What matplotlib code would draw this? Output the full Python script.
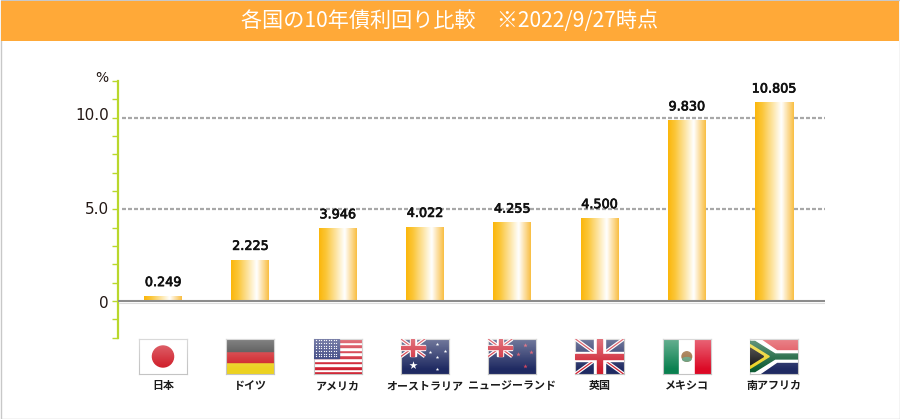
import numpy as np
import matplotlib
matplotlib.use("Agg")
import matplotlib.pyplot as plt
import matplotlib.patheffects as pe
from matplotlib.colors import LinearSegmentedColormap
from matplotlib.patches import Ellipse, Polygon, Rectangle
from matplotlib.transforms import ScaledTranslation

plt.rcParams['font.family'] = ['Noto Sans CJK JP', 'DejaVu Sans']

title = "各国の10年債利回り比較　※2022/9/27時点"
countries = ["日本", "ドイツ", "アメリカ", "オーストラリア", "ニュージーランド", "英国", "メキシコ", "南アフリカ"]
flag_codes = ["jp", "de", "us", "au", "nz", "gb", "mx", "za"]
yields = [0.249, 2.225, 3.946, 4.022, 4.255, 4.500, 9.830, 10.805]
yield_labels = ["0.249", "2.225", "3.946", "4.022", "4.255", "4.500", "9.830", "10.805"]
minor_ticks = list(range(-2, 13))
major_ticks = {0: "0", 5: "5.0", 10: "10.0"}
grid_levels = [5, 10]

W, H = 900, 419
INK = "#231815"
NAVY = "#1f2a62"
RED = "#cf2030"
LATIN = "DejaVu Sans"

bar_cmap = LinearSegmentedColormap.from_list(
    "bar", [(0, "#fbb70c"), (0.18, "#fbc638"), (0.68, "#ffffff"), (1, "#f9bf45")])


def gloss(ax):
    # 旗の上半分に白いツヤを重ねる
    g = np.zeros((32, 1, 4))
    g[:, 0, :3] = 1
    g[:, 0, 3] = np.clip(np.linspace(0.38, -0.05, 32), 0, 1)
    ax.imshow(g, extent=(0, 1, 0, 1), origin="upper", aspect="auto", zorder=20)


def union_jack(ax, x0, y0, w, h):
    ax.add_patch(Rectangle((x0, y0), w, h, color=NAVY, zorder=2))
    for a, b in [((x0, y0), (x0 + w, y0 + h)), ((x0, y0 + h), (x0 + w, y0))]:
        ax.plot(*zip(a, b), color="white", lw=2.6, solid_capstyle="butt", zorder=3)
        ax.plot(*zip(a, b), color=RED, lw=0.9, solid_capstyle="butt", zorder=4)
    ax.add_patch(Rectangle((x0 + w * 0.38, y0), w * 0.24, h, color="white", zorder=5))
    ax.add_patch(Rectangle((x0, y0 + h * 0.36), w, h * 0.28, color="white", zorder=5))
    ax.add_patch(Rectangle((x0 + w * 0.44, y0), w * 0.12, h, color=RED, zorder=6))
    ax.add_patch(Rectangle((x0, y0 + h * 0.42), w, h * 0.16, color=RED, zorder=6))


def draw_flag(ax, code):
    ax.set_xticks([])
    ax.set_yticks([])
    for s in ax.spines.values():
        s.set_color("#c4c4c4")
        s.set_linewidth(0.8)
    if code == "jp":
        ax.add_patch(Rectangle((0, 0), 1, 1, color="white"))
        ax.add_patch(Ellipse((0.5, 0.5), 0.44, 0.6, color="#cf1a26", zorder=3))
    elif code == "de":
        for i, c in enumerate(["#ecd221", "#cf1f25", "#3a3a3a"]):
            ax.add_patch(Rectangle((0, i / 3), 1, 1 / 3, color=c))
    elif code == "us":
        for i in range(13):
            ax.add_patch(Rectangle((0, i / 13), 1, 1 / 13, color=RED if i % 2 == 0 else "white"))
        ax.add_patch(Rectangle((0, 6 / 13), 0.52, 7 / 13, color="#2b3576", zorder=3))
        sx, sy = np.meshgrid(np.linspace(0.05, 0.47, 9), np.linspace(0.51, 0.96, 7))
        ax.scatter(sx, sy, s=0.8, color="white", linewidths=0, zorder=4)
    elif code in ("au", "nz"):
        ax.add_patch(Rectangle((0, 0), 1, 1, color=NAVY))
        union_jack(ax, 0, 0.5, 0.5, 0.5)
        if code == "au":
            ax.scatter([0.75, 0.6, 0.92, 0.76, 0.75], [0.85, 0.62, 0.66, 0.48, 0.14],
                       s=7, marker="*", color="white", linewidths=0, zorder=7)
            ax.scatter([0.25], [0.25], s=38, marker="*", color="white", linewidths=0, zorder=7)
        else:
            ax.scatter([0.77, 0.62, 0.9, 0.77], [0.82, 0.58, 0.64, 0.22],
                       s=11, marker="*", color="#d2415a", linewidths=0, zorder=7)
    elif code == "gb":
        union_jack(ax, 0, 0, 1, 1)
    elif code == "mx":
        ax.add_patch(Rectangle((0, 0), 1 / 3, 1, color="#0b8150"))
        ax.add_patch(Rectangle((1 / 3, 0), 1 / 3, 1, color="white"))
        ax.add_patch(Rectangle((2 / 3, 0), 1 / 3, 1, color="#dc0a26"))
        ax.add_patch(Ellipse((0.5, 0.5), 0.2, 0.27, color="#9a6a3a", zorder=3))
        ax.add_patch(Ellipse((0.5, 0.42), 0.17, 0.1, color="#5f9a78", zorder=4))
    elif code == "za":
        ax.add_patch(Rectangle((0, 0.5), 1, 0.5, color="#dd3a44"))
        ax.add_patch(Rectangle((0, 0), 1, 0.5, color=NAVY))
        ax.add_patch(Polygon([(0, 1), (0.2, 1), (0.56, 0.66), (1, 0.66), (1, 0.34), (0.56, 0.34),
                              (0.2, 0), (0, 0)], color="white", zorder=2))
        ax.add_patch(Polygon([(0, 0.93), (0.1, 0.93), (0.52, 0.57), (1, 0.57), (1, 0.43), (0.52, 0.43),
                              (0.1, 0.07), (0, 0.07)], color="#0d5c34", zorder=3))
        ax.add_patch(Polygon([(0, 0.84), (0.4, 0.5), (0, 0.16)], color="#ecd221", zorder=4))
        ax.add_patch(Polygon([(0, 0.74), (0.28, 0.5), (0, 0.26)], color="#111111", zorder=5))
    gloss(ax)
    ax.set_xlim(0, 1)
    ax.set_ylim(0, 1)


fig = plt.figure(figsize=(W / 100, H / 100), dpi=100, facecolor="white")

# 外枠とタイトル帯
bg = fig.add_axes([0, 0, 1, 1], zorder=0)
bg.set_xlim(0, W)
bg.set_ylim(H, 0)
bg.axis("off")
bg.add_patch(Rectangle((0.5, 0.5), W - 1, H - 1, facecolor="white", edgecolor="#c8c8c8", lw=1))
bg.add_patch(Rectangle((1, 1), W - 2, 40, facecolor="#ffa938", edgecolor="none"))
bg.text(W / 2, 21, title, color="white", fontsize=15.2, ha="center", va="center")

# グラフ本体: x=0 が 163px、間隔 87.3px
ax = fig.add_axes([118.5 / W, 1 - 337.7 / H, (825 - 118.5) / W, (337.7 - 81) / H], zorder=1)
ax.patch.set_alpha(0)
xlim = ((118.5 - 163) / 87.3, (825 - 163) / 87.3)
for name in ["top", "right", "bottom"]:
    ax.spines[name].set_visible(False)
ax.spines["left"].set_color("#b9d72c")
ax.spines["left"].set_linewidth(1.6)
ax.set_xticks([])
ax.set_yticks(minor_ticks)
ax.set_yticklabels([major_ticks.get(t, "") for t in minor_ticks], fontsize=11, color=INK,
                   fontfamily=LATIN)
ax.tick_params(axis="y", direction="out", length=4, width=1.0, color="#b9d72c", pad=3)
# 目盛りラベルは元の図でも少しずれている
label_shift = {0: -1, 5: 1, 10: 4}
for tick_value, label in zip(minor_ticks, ax.get_yticklabels()):
    if tick_value in label_shift:
        label.set_transform(label.get_transform()
                            + ScaledTranslation(0, label_shift[tick_value] / 100, fig.dpi_scale_trans))
ax.text(-0.015, 1.012, "%", transform=ax.transAxes, ha="right", va="center",
        fontsize=10, color=INK, fontfamily=LATIN)

grid_start = (122 - 163) / 87.3
for level in grid_levels:
    ax.plot([grid_start, xlim[1]], [level, level], color="#a8a8a8", lw=1.6,
            linestyle=(0, (1.8, 0.9)), dash_capstyle="butt", zorder=1)

bar_half = 19 / 87.3
grad = np.linspace(0, 1, 64).reshape(1, -1)
for i, v in enumerate(yields):
    ax.imshow(grad, cmap=bar_cmap, extent=(i - bar_half, i + bar_half, 0, v),
              aspect="auto", zorder=2, interpolation="bilinear")
    ax.annotate(yield_labels[i], (i, v), xytext=(0, 10), textcoords="offset points",
                ha="center", va="center", fontsize=9.2, color="#111111", fontfamily=LATIN,
                zorder=5, path_effects=[pe.withStroke(linewidth=0.5, foreground="#111111")])

ax.axhline(0, color="#8c8c8c", lw=1.5, zorder=4)
ax.plot(xlim, [-0.12, -0.12], color="#dddddd", lw=0.8, zorder=3)
ax.set_xlim(xlim)
ax.set_ylim(-2, 12)

# 国旗と国名
for i, (code, name) in enumerate(zip(flag_codes, countries)):
    inset = ax.inset_axes([i - 0.275, -3.98, 0.55, 1.91], transform=ax.transData)
    draw_flag(inset, code)
    ax.text(i, -4.65, name, ha="center", va="center", fontsize=7.9, fontweight="bold",
            color="#1a1a1a", clip_on=False)

fig.savefig("out.png", dpi=100)
